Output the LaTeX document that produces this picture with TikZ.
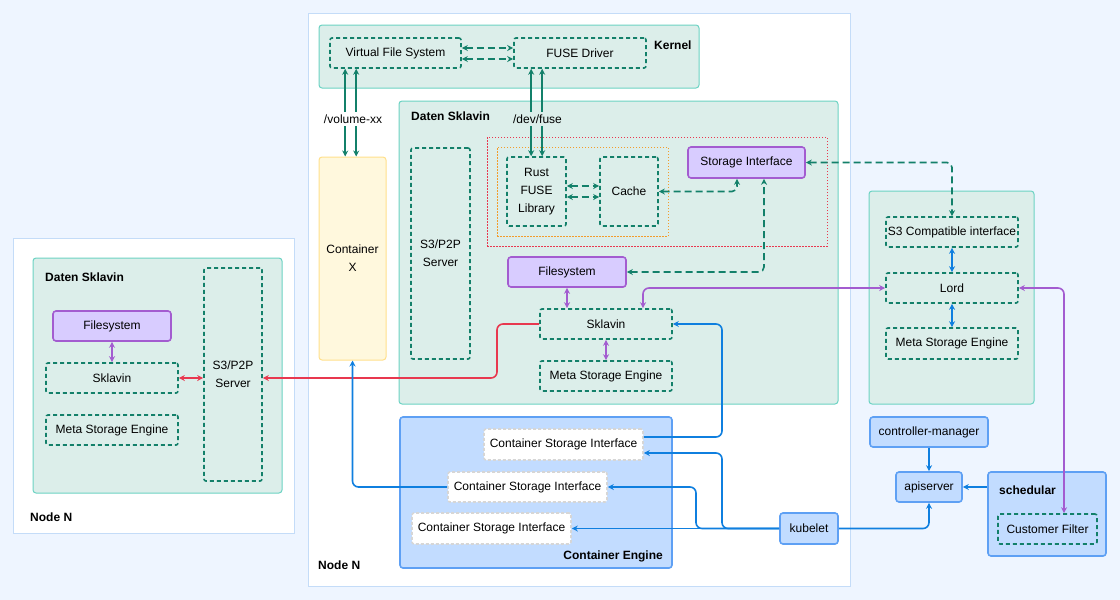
\documentclass[tikz,border=0pt]{standalone}
\usepackage{fontspec}
\setmainfont{Liberation Sans}
\usetikzlibrary{arrows.meta,calc}
\definecolor{bgblue}{HTML}{EEF5FF}
\definecolor{hostline}{HTML}{C4DCF8}
\definecolor{tealfill}{HTML}{DCEEEA}
\definecolor{tealline}{HTML}{6CD3C3}
\definecolor{dgreen}{HTML}{13806A}
\definecolor{lilac}{HTML}{D8CCFF}
\definecolor{violet}{HTML}{A35CD0}
\definecolor{kubefill}{HTML}{C2DCFF}
\definecolor{kubeline}{HTML}{5EA0F4}
\definecolor{arrblue}{HTML}{0F7FDF}
\definecolor{rosered}{HTML}{E8384F}
\definecolor{orng}{HTML}{F39C2A}
\definecolor{creamfill}{HTML}{FFF8DD}
\definecolor{creamline}{HTML}{FFE08C}
\definecolor{csiline}{HTML}{D6D6D6}
\begin{document}
\begin{tikzpicture}[x=1pt, y=-1pt, >={Stealth[length=6pt,width=6pt]},
    every node/.style={font=\fontsize{12}{18}\selectfont, inner sep=0pt},
    hostbox/.style={draw=hostline, fill=white, line width=1pt},
    groupbox/.style={draw=tealline, fill=tealfill, rounded corners=3pt, line width=1pt},
    creambox/.style={draw=creamline, fill=creamfill, rounded corners=3pt, line width=1pt, align=center},
    dashbox/.style={draw=dgreen, dash pattern=on 4pt off 3pt, line width=1.6pt, rounded corners=2pt, align=center},
    purplebox/.style={draw=violet, fill=lilac, line width=1.6pt, rounded corners=3pt},
    kubebox/.style={draw=kubeline, fill=kubefill, line width=1.6pt, rounded corners=3pt},
    csibox/.style={draw=csiline, fill=white, dash pattern=on 3pt off 2pt, line width=1.6pt, rounded corners=2pt},
    boldlabel/.style={font=\fontsize{12}{14}\selectfont\bfseries, anchor=west},
    gflow/.style={draw=dgreen, line width=1.6pt, <->},
    gdash/.style={gflow, dash pattern=on 7pt off 4pt, rounded corners=5pt},
    pflow/.style={draw=violet, line width=1.6pt, <->, rounded corners=6pt},
    bflow/.style={draw=arrblue, line width=1.6pt, rounded corners=6pt},
    rflow/.style={draw=rosered, line width=1.6pt, rounded corners=6pt}]
  \fill[bgblue] (0,0) rectangle (1120,600);
  \useasboundingbox (0,0) rectangle (1120,600);

  % left host
  \node[hostbox, minimum width=281pt, minimum height=295pt] (hostL) at (153.5,385.5) {};
  \node[boldlabel] (hostLlbl) at (30,517) {Node N};
  \node[groupbox, minimum width=249pt, minimum height=235pt] (dsL) at (157.5,375.5) {};
  \node[boldlabel] (dsLlbl) at (45,277) {Daten Sklavin};
  \node[purplebox, minimum width=118pt, minimum height=30pt] (fsL) at (112,326) {Filesystem};
  \node[dashbox, minimum width=132pt, minimum height=30pt] (skL) at (112,378) {Sklavin};
  \node[dashbox, minimum width=132pt, minimum height=30pt] (msL) at (112,430) {Meta Storage Engine};
  \node[dashbox, minimum width=58pt, minimum height=213pt] (s3L) at (233,374.5) {S3/P2P\\Server};

  % center host
  \node[hostbox, minimum width=542pt, minimum height=573pt] (hostC) at (579,299.5) {};
  \node[boldlabel] (hostClbl) at (318,565) {Node N};
  \node[groupbox, minimum width=380pt, minimum height=63pt] (kernel) at (509,56.5) {};
  \node[boldlabel] (kernellbl) at (654,45) {Kernel};
  \node[dashbox, minimum width=131pt, minimum height=30pt] (vfs) at (395.5,53) {Virtual File System};
  \node[dashbox, minimum width=132pt, minimum height=30pt] (fuse) at (580,53) {FUSE Driver};
  \node[creambox, minimum width=67pt, minimum height=203pt] (contX) at (352.5,258.5) {Container\\X};
  \node[groupbox, minimum width=439pt, minimum height=303pt] (dsC) at (618.5,252.5) {};
  \node[boldlabel] (dsClbl) at (411,116) {Daten Sklavin};
  \node[dashbox, minimum width=59pt, minimum height=211pt] (s3C) at (440.5,253.5) {S3/P2P\\Server};
  \node[draw=rosered, line width=0.8pt, dash pattern=on 1.5pt off 1.5pt, minimum width=340pt, minimum height=109pt] (frameR) at (657,191.5) {};
  \node[draw=orng, line width=0.8pt, dash pattern=on 1.5pt off 1.5pt, minimum width=171pt, minimum height=89pt] (frameO) at (582.5,191.5) {};
  \node[dashbox, minimum width=59pt, minimum height=69pt] (rust) at (536.5,191.5) {Rust\\FUSE\\Library};
  \node[dashbox, minimum width=58pt, minimum height=69pt] (cache) at (629,191.5) {Cache};
  \node[purplebox, minimum width=117pt, minimum height=31pt] (stor) at (746.5,162.5) {Storage Interface};
  \node[purplebox, minimum width=118pt, minimum height=30pt] (fsC) at (567,272) {Filesystem};
  \node[dashbox, minimum width=132pt, minimum height=30pt] (skC) at (606,324) {Sklavin};
  \node[dashbox, minimum width=132pt, minimum height=30pt] (msC) at (606,376) {Meta Storage Engine};
  \node[kubebox, minimum width=272pt, minimum height=151pt] (ce) at (536,492.5) {};
  \node[boldlabel, anchor=east] (celbl) at (663,556) {Container Engine};
  \node[csibox, minimum width=159pt, minimum height=31pt] (csiA) at (563.5,444.5) {Container Storage Interface};
  \node[csibox, minimum width=159pt, minimum height=30pt] (csiB) at (527.5,487) {Container Storage Interface};
  \node[csibox, minimum width=159pt, minimum height=31pt] (csiC) at (491.5,528.5) {Container Storage Interface};
  \node[kubebox, minimum width=58pt, minimum height=31pt] (kubelet) at (809,528.5) {kubelet};

  % right side
  \node[groupbox, minimum width=165pt, minimum height=213pt] (lordbox) at (951.5,297.5) {};
  \node[dashbox, minimum width=132pt, minimum height=30pt] (s3i) at (952,232) {S3 Compatible interface};
  \node[dashbox, minimum width=132pt, minimum height=30pt] (lord) at (952,288) {Lord};
  \node[dashbox, minimum width=132pt, minimum height=31pt] (msR) at (952,343.5) {Meta Storage Engine};
  \node[kubebox, minimum width=118pt, minimum height=30pt] (cm) at (929,432) {controller-manager};
  \node[kubebox, minimum width=66pt, minimum height=30pt] (api) at (929,487) {apiserver};
  \node[kubebox, minimum width=118pt, minimum height=84pt] (sched) at (1047,514) {};
  \node[boldlabel] (schedlbl) at (999,490) {schedular};
  \node[dashbox, minimum width=99pt, minimum height=30pt] (cf) at (1047.5,529) {Customer Filter};

  % kernel links
  \draw[gdash] ($(vfs.east)+(0,-5)$) -- ($(fuse.west)+(0,-5)$);
  \draw[gdash] ($(vfs.east)+(0,6)$) -- ($(fuse.west)+(0,6)$);
  \foreach \dx in {16,27}
    \draw[gflow] ([xshift=\dx pt]vfs.south west) -- ([xshift=\dx pt]vfs.south west |- contX.north);
  \foreach \dx in {18,29}
    \draw[gflow] ([xshift=\dx pt]fuse.south west) -- ([xshift=\dx pt]fuse.south west |- rust.north);
  \node[fill=white, inner sep=3pt] (vollbl) at (353,119) {/volume-xx};
  \node[fill=tealfill, inner sep=3pt] (devlbl) at (537.5,119) {/dev/fuse};

  % storage links
  \draw[gdash] ($(rust.east)+(0,-5.5)$) -- ($(cache.west)+(0,-5.5)$);
  \draw[gdash] ($(rust.east)+(0,5.5)$) -- ($(cache.west)+(0,5.5)$);
  \draw[gdash] (cache.east) -| ([xshift=-9.5pt]stor.south);
  \draw[gdash] (fsC.east) -| ([xshift=17.5pt]stor.south);
  \draw[gdash] (stor.east) -| (s3i.north);

  % purple links
  \draw[pflow] (fsL) -- (skL);
  \draw[pflow] (fsC.south) -- (fsC.south |- skC.north);
  \draw[pflow] (skC) -- (msC);
  \draw[pflow] (lord.west) -| ([xshift=37pt]skC.north);
  \draw[pflow] (lord.east) -| ([xshift=16.5pt]cf.north);

  % red links
  \draw[rflow, <->] (skL.east) -- (skL.east -| s3L.west);
  \draw[rflow, ->] (skC.west) -| (497,350) |- (skL.east -| s3L.east);

  % blue links
  \draw[bflow, <->] (s3i) -- (lord);
  \draw[bflow, <->] (lord) -- (msR);
  \draw[bflow, ->] ([yshift=7.5pt]csiA.east) -| (722,380) |- (skC.east);
  \draw[bflow, ->] (kubelet.west) -| (722,490) |- ([yshift=-8.5pt]csiA.east);
  \draw[bflow, ->] (kubelet.west) -| (696,510) |- (csiB.east);
  \draw[bflow, ->] (kubelet.west) -- (csiC.east);
  \draw[bflow, ->] (csiB.west) -| (contX.south);
  \draw[bflow, ->] (kubelet.east) -| (api.south);
  \draw[bflow, ->] (cm) -- (api);
  \draw[bflow, ->] (api.east -| sched.west) -- (api.east);
\end{tikzpicture}
\end{document}
